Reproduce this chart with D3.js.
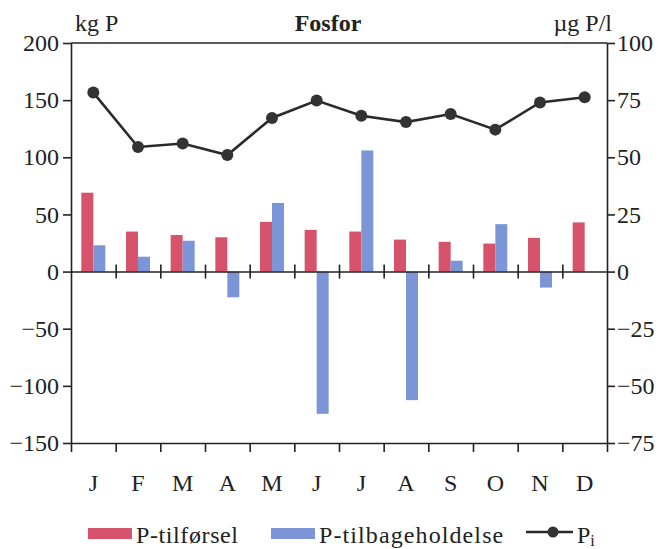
<!DOCTYPE html>
<html>
<head>
<meta charset="utf-8">
<script src="https://cdn.jsdelivr.net/npm/d3@7"></script>
<style>
  body { margin: 0; background: #fff; }
  svg { font-family: 'Liberation Serif', 'Times New Roman', serif; }
</style>
</head>
<body>
<div id="chart"></div>
<script>
// data
const months = ['J', 'F', 'M', 'A', 'M', 'J', 'J', 'A', 'S', 'O', 'N', 'D'];
const tilforsel = [69, 35, 32, 30, 43.5, 36.5, 35, 28, 26, 24.5, 29.5, 43];
const tilbageholdelse = [23, 13, 27, -22.5, 60, -124.5, 106, -112.5, 9.5, 41.5, -14, 0];
const pi = [78.3, 54.5, 56, 51, 67.2, 74.8, 68.2, 65.4, 68.9, 62.1, 74, 76.3];
const leftTicks = [-150, -100, -50, 0, 50, 100, 150, 200];
const rightTicks = [-75, -50, -25, 0, 25, 50, 75, 100];

const width = 659, height = 549;
const m = { left: 71, right: 52, top: 43, bottom: 105 };

const svg = d3.select('#chart').append('svg')
  .attr('width', width)
  .attr('height', height);

const x = d3.scaleBand()
  .domain(d3.range(months.length))
  .range([m.left, width - m.right])
  .padding(0);
const xIdx = d3.scaleLinear()
  .domain([0, months.length])
  .range([m.left, width - m.right]);
const bw = x.bandwidth();
const x1 = d3.scaleBand()
  .domain(['t', 'b'])
  .range([bw / 2 - 12, bw / 2 + 12]);

const yL = d3.scaleLinear().domain([-150, 200]).range([height - m.bottom - 1, m.top]);
const yR = d3.scaleLinear().domain([-75, 100]).range([height - m.bottom - 1, m.top]);

const color = { t: '#d6536b', b: '#7b95d7' };

// bars
const g = svg.append('g');
months.forEach((mo, i) => {
  [['t', tilforsel[i]], ['b', tilbageholdelse[i]]].forEach(([k, v]) => {
    if (!v) return;
    g.append('rect')
      .attr('x', x(i) + x1(k))
      .attr('width', x1.bandwidth())
      .attr('y', yL(Math.max(0, v)))
      .attr('height', Math.abs(yL(v) - yL(0)))
      .attr('fill', color[k]);
  });
});

// frame / axes
const axisStyle = sel => {
  sel.selectAll('path, line').attr('stroke', '#222').attr('stroke-width', 1.6);
  sel.selectAll('text').attr('fill', '#222').style('font-size', '24px')
    .style('font-family', "'Liberation Serif', serif");
};

svg.append('line')
  .attr('x1', m.left).attr('x2', width - m.right)
  .attr('y1', m.top).attr('y2', m.top)
  .attr('stroke', '#222').attr('stroke-width', 1.6);

svg.append('g')
  .attr('transform', `translate(${m.left},0)`)
  .call(d3.axisLeft(yL).tickValues(leftTicks).tickSize(8).tickPadding(4).tickSizeOuter(0))
  .call(axisStyle);

svg.append('g')
  .attr('transform', `translate(${width - m.right},0)`)
  .call(d3.axisRight(yR).tickValues(rightTicks).tickSize(8).tickPadding(2).tickSizeOuter(0))
  .call(axisStyle);

// zero line with crossing ticks
const zero = svg.append('g')
  .attr('transform', `translate(0,${yL(0)})`)
  .call(d3.axisBottom(xIdx).tickValues(d3.range(1, months.length)).tickFormat('').tickSizeOuter(0))
  .call(axisStyle);
zero.selectAll('.tick line').attr('y1', -7).attr('y2', 7);

// bottom axis
svg.append('g')
  .attr('transform', `translate(0,${yL(-150)})`)
  .call(d3.axisBottom(xIdx).tickValues(d3.range(0, months.length + 1)).tickFormat('').tickSize(9).tickSizeOuter(0))
  .call(axisStyle);

svg.append('g')
  .selectAll('text')
  .data(months)
  .join('text')
  .attr('x', (d, i) => x(i) + bw / 2)
  .attr('y', 491)
  .attr('text-anchor', 'middle')
  .style('font-size', '24px')
  .attr('fill', '#222')
  .text(d => d);

// line
const line = d3.line()
  .x((d, i) => x(i) + bw / 2)
  .y(d => yR(d));
svg.append('path')
  .datum(pi)
  .attr('d', line)
  .attr('fill', 'none')
  .attr('stroke', '#2a2a2a')
  .attr('stroke-width', 2.6);
svg.append('g')
  .selectAll('circle')
  .data(pi)
  .join('circle')
  .attr('cx', (d, i) => x(i) + bw / 2)
  .attr('cy', d => yR(d))
  .attr('r', 6)
  .attr('fill', '#333');

// titles
svg.append('text').attr('x', 75).attr('y', 31).style('font-size', '24px').attr('fill', '#222').text('kg P');
svg.append('text').attr('x', 328).attr('y', 31).attr('text-anchor', 'middle')
  .style('font-size', '24px').style('font-weight', 'bold').attr('fill', '#222').text('Fosfor');
svg.append('text').attr('x', 612).attr('y', 31).attr('text-anchor', 'end')
  .style('font-size', '24px').attr('fill', '#222').text('µg P/l');

// legend
const leg = svg.append('g');
leg.append('rect').attr('x', 88).attr('y', 528).attr('width', 44).attr('height', 11).attr('fill', color.t);
leg.append('text').attr('x', 136).attr('y', 543).style('font-size', '24px').style('letter-spacing', '0.6px')
  .attr('fill', '#222').text('P-tilførsel');
leg.append('rect').attr('x', 271).attr('y', 528).attr('width', 44).attr('height', 11).attr('fill', color.b);
leg.append('text').attr('x', 319).attr('y', 543).style('font-size', '24px').style('letter-spacing', '1.1px')
  .attr('fill', '#222').text('P-tilbageholdelse');
leg.append('line').attr('x1', 526).attr('x2', 573).attr('y1', 532).attr('y2', 532)
  .attr('stroke', '#2a2a2a').attr('stroke-width', 2.4);
leg.append('circle').attr('cx', 553).attr('cy', 532).attr('r', 5.5).attr('fill', '#333');
const pt = leg.append('text').attr('x', 577).attr('y', 543).style('font-size', '24px').attr('fill', '#222');
pt.append('tspan').text('P');
pt.append('tspan').attr('dy', 3).style('font-size', '16px').text('i');
</script>
</body>
</html>
